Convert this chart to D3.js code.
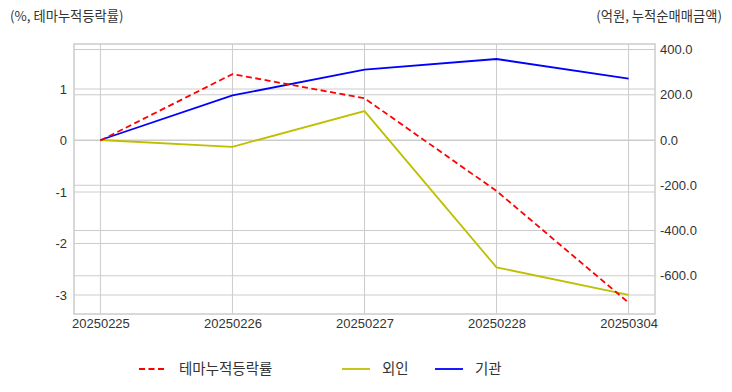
<!DOCTYPE html>
<html>
<head>
<meta charset="utf-8">
<script src="https://cdn.jsdelivr.net/npm/d3@7"></script>
<style>
  body { margin: 0; background: #fff; }
  svg { font-family: "Noto Sans CJK KR", "Noto Sans", sans-serif; }
  .axis text { fill: #333; font-size: 13px; }
  .axis path, .axis line { display: none; }
  .grid line { stroke: #cccccc; stroke-width: 1; }
</style>
</head>
<body>
<script>
// 데이터
const dates = ["20250225", "20250226", "20250227", "20250228", "20250304"]
const themeRate = [0, 1.29, 0.82, -0.98, -3.15]      // 테마누적등락률 (%)
const foreign = [0, -30, 128, -563, -684]            // 외인 (억원)
const inst = [0, 197, 311, 358, 271]                 // 기관 (억원)
const leftTicks = [-3, -2, -1, 0, 1]
const rightTicks = [-600, -400, -200, 0, 200, 400]

const W = 732, H = 392
const plot = { left: 74, right: 655, top: 44, bottom: 314 }

// 마이너스 기호는 일반 하이픈으로
const locale = d3.formatLocale({ decimal: ".", thousands: ",", grouping: [3], currency: ["", ""], minus: "-" })

const svg = d3.select("body").append("svg")
  .attr("width", W).attr("height", H)

let x = d3.scalePoint().domain(dates).range([plot.left, plot.right]).padding(0.2)
let yL = d3.scaleLinear().domain([-3.369, 1.874]).range([plot.bottom, plot.top])
let yR = d3.scaleLinear().domain([-769, 424.4]).range([plot.bottom, plot.top])

// 그리드
const grid = svg.append("g").attr("class", "grid")
grid.selectAll(".gx").data(dates).enter().append("line")
  .attr("x1", d => x(d)).attr("x2", d => x(d))
  .attr("y1", plot.top).attr("y2", plot.bottom)
grid.selectAll(".gl").data(leftTicks).enter().append("line")
  .attr("x1", plot.left).attr("x2", plot.right)
  .attr("y1", d => yL(d)).attr("y2", d => yL(d))
grid.selectAll(".gr").data(rightTicks).enter().append("line")
  .attr("x1", plot.left).attr("x2", plot.right)
  .attr("y1", d => yR(d)).attr("y2", d => yR(d))

// 테두리
svg.append("rect")
  .attr("x", plot.left).attr("y", plot.top)
  .attr("width", plot.right - plot.left).attr("height", plot.bottom - plot.top)
  .attr("fill", "none").attr("stroke", "#cccccc").attr("stroke-width", 1.5)

// 축
svg.append("g").attr("class", "axis")
  .attr("transform", `translate(0,${plot.bottom})`)
  .call(d3.axisBottom(x).tickSize(0).tickPadding(5))
svg.append("g").attr("class", "axis")
  .attr("transform", `translate(${plot.left},0)`)
  .call(d3.axisLeft(yL).tickValues(leftTicks).tickSize(0).tickPadding(7).tickFormat(locale.format("d")))
svg.append("g").attr("class", "axis")
  .attr("transform", `translate(${plot.right},0)`)
  .call(d3.axisRight(yR).tickValues(rightTicks).tickSize(0).tickPadding(5).tickFormat(locale.format(".1f")))

// 선
const lineL = d3.line().x((d, i) => x(dates[i])).y(d => yL(d))
const lineR = d3.line().x((d, i) => x(dates[i])).y(d => yR(d))

svg.append("path").attr("d", lineR(foreign))
  .attr("fill", "none").attr("stroke", "#bfbf00").attr("stroke-width", 1.8)
svg.append("path").attr("d", lineR(inst))
  .attr("fill", "none").attr("stroke", "#0000ff").attr("stroke-width", 1.8)
svg.append("path").attr("d", lineL(themeRate))
  .attr("fill", "none").attr("stroke", "#ff0000").attr("stroke-width", 1.8)
  .attr("stroke-dasharray", "6,3.5")

// 단위
svg.append("text").attr("x", 10).attr("y", 21)
  .attr("font-size", 13.3).attr("fill", "#333").text("(%, 테마누적등락률)")
svg.append("text").attr("x", 722).attr("y", 21).attr("text-anchor", "end")
  .attr("font-size", 13.3).attr("fill", "#333").text("(억원, 누적순매매금액)")

// 범례
const legend = [
  { name: "테마누적등락률", color: "#ff0000", dash: "6,3.5", x: 139 },
  { name: "외인", color: "#bfbf00", dash: null, x: 342 },
  { name: "기관", color: "#0000ff", dash: null, x: 435 }
]
const lg = svg.append("g")
lg.selectAll("line").data(legend).enter().append("line")
  .attr("x1", d => d.x).attr("x2", d => d.x + 28)
  .attr("y1", 369).attr("y2", 369)
  .attr("stroke", d => d.color).attr("stroke-width", 1.8)
  .attr("stroke-dasharray", d => d.dash)
lg.selectAll("text").data(legend).enter().append("text")
  .attr("x", d => d.x + 40).attr("y", 374)
  .attr("font-size", 14.5).attr("fill", "#333").text(d => d.name)
</script>
</body>
</html>
